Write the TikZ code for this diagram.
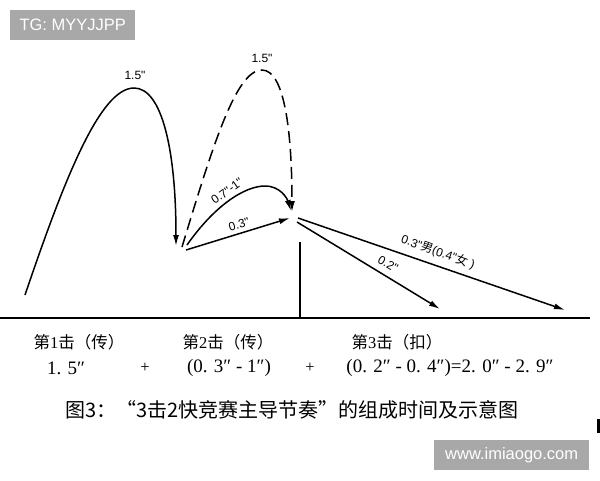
\documentclass[tikz,border=0pt]{standalone}
\usepackage{fontspec}
\setmainfont{Liberation Serif}
\newfontfamily\cjk{Noto Sans CJK SC}
\newfontfamily\lsans{Liberation Sans}
\usetikzlibrary{arrows.meta}
\definecolor{boxgray}{HTML}{A8A8A8}
\begin{document}
\begin{tikzpicture}[x=1pt,y=-1pt,
  curve/.style={line width=1.5pt,-{Latex[length=11pt,width=6pt]}},
  dashcurve/.style={curve,dash pattern=on 12pt off 6pt},
  lbl/.style={font=\lsans\fontsize{12}{14}\selectfont,inner sep=0pt},
  rowtext/.style={font=\fontsize{16.5}{18}\selectfont,inner sep=0pt},
  numtext/.style={font=\fontsize{19}{21}\selectfont,inner sep=0pt},
  wmbox/.style={fill=boxgray,text=white,font=\lsans\fontsize{16.5}{18}\selectfont,inner sep=0pt,anchor=north west}]
\useasboundingbox (0,0) rectangle (600,480);
\fill[white] (0,0) rectangle (600,480);

% watermark boxes
\node[wmbox,minimum width=125pt,minimum height=30pt] (tg) at (10,10) {TG: MYYJJPP};
\node[wmbox,minimum width=155pt,minimum height=30pt] (web) at (434,440) {www.imiaogo.com};
\fill (597,419) rectangle (600,433);

% ground line and marker
\coordinate (g0) at (0,318);
\coordinate (g1) at (590,318);
\draw[line width=2pt] (g0) -- (g1);
\coordinate (v0) at (300,242);
\coordinate (v1) at (300,318);
\draw[line width=1.5pt] (v0) -- (v1);

% points
\coordinate (s1) at (25,295);
\coordinate (top1) at (134,88);
\coordinate (land) at (176,246);
\coordinate (d0) at (182,247);
\coordinate (top2) at (262,70);
\coordinate (dend) at (292,212);
\coordinate (c0) at (187,245);
\coordinate (top3) at (265,186);
\coordinate (cend) at (291,211);
\coordinate (l0) at (186,250);
\coordinate (lend) at (290,218);
\coordinate (h1) at (298,218);
\coordinate (h2) at (297,222);
\coordinate (e1) at (565,310);
\coordinate (e2) at (440,309);

% first hit
\draw[curve] (s1) .. controls (64,180) and (100,88) .. (top1)
  .. controls (162,88) and (176,150) .. (land);
\node[lbl] (t1) at (135,75) {1.5"};

% second hit dashed
\draw[dashcurve] (d0) .. controls (213,145) and (236,70) .. (top2)
  .. controls (286,70) and (292,140) .. (dend);
\node[lbl] (t2) at (262,58) {1.5"};

% second hit curve
\draw[curve] (c0) .. controls (215,205) and (245,186) .. (top3)
  .. controls (280,186) and (287,198) .. (cend);
\node[lbl,rotate=36] (t3) at (227,191) {0.7"-1"};

% second hit straight
\draw[curve] (l0) -- (lend);
\node[lbl,rotate=17] (t4) at (239,224) {0.3"};

% third hit
\draw[curve] (h1) -- (e1);
\draw[curve] (h2) -- (e2);
\node[lbl,rotate=-30] (t5) at (388,264) {0.2"};
\node[lbl,rotate=-19.5] (t6) at (438,252) {0.3"{\cjk 男}(0.4"{\cjk 女} )};

% bottom rows
\node[rowtext] (r1a) at (79,342) {{\cjk 第}1{\cjk 击（传）}};
\node[rowtext] (r1b) at (228,342) {{\cjk 第}2{\cjk 击（传）}};
\node[rowtext] (r1c) at (397,342) {{\cjk 第}3{\cjk 击（扣）}};
\node[numtext] (r2a) at (66,368) {1. 5″};
\node[rowtext] (r2p1) at (145,368) {+};
\node[numtext] (r2b) at (229,368) {(0. 3″ - 1″)};
\node[rowtext] (r2p2) at (310,368) {+};
\node[numtext] (r2c) at (450,368) {(0. 2″ - 0. 4″)=2. 0″ - 2. 9″};

% caption
\node[inner sep=0pt,font=\cjk\fontsize{20}{22}\selectfont] (cap) at (292,410) {图3：“3击2快竞赛主导节奏”的组成时间及示意图};
\end{tikzpicture}
\end{document}
